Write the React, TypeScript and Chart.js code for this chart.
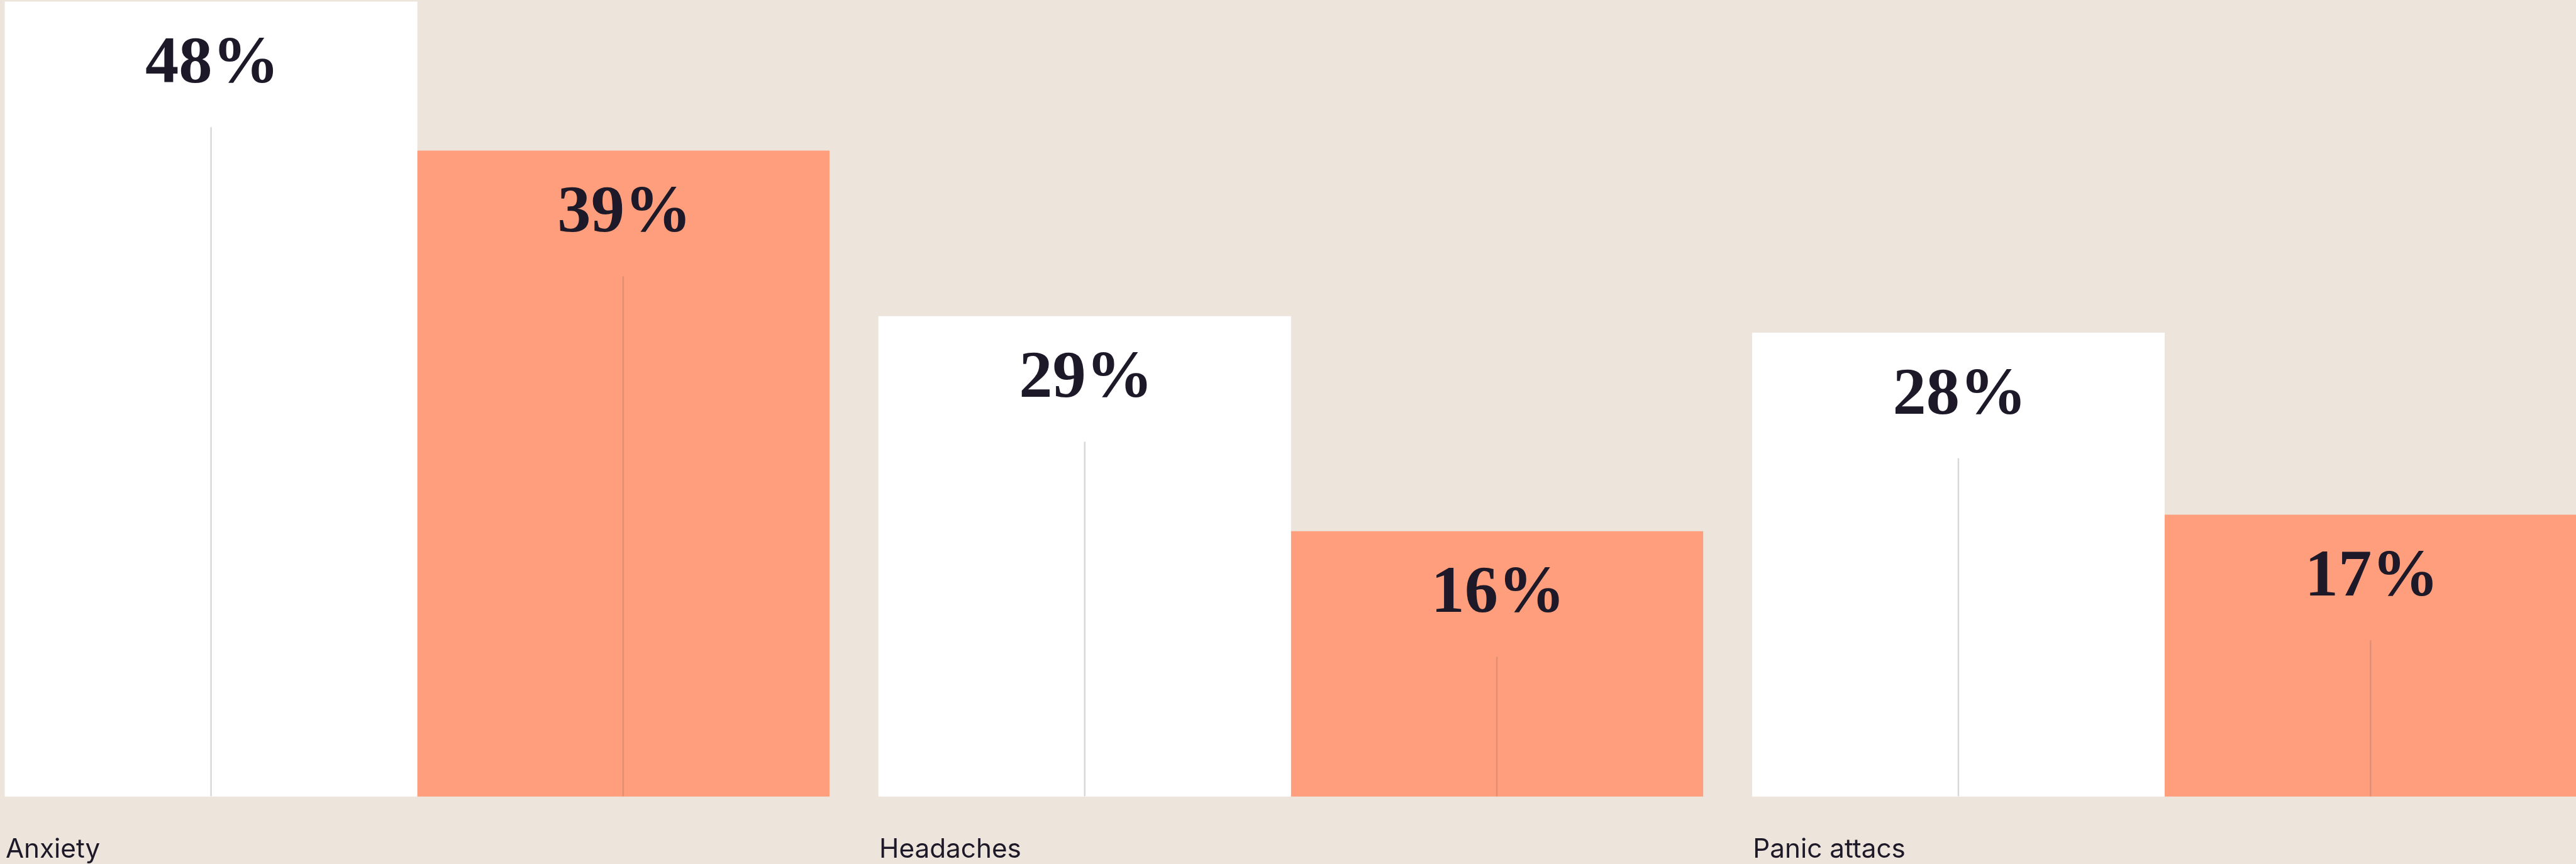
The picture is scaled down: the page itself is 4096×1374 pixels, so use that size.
import React, { useEffect, useRef } from "react";
import { Chart, registerables } from "chart.js";

Chart.register(...registerables);

const categories = ["Anxiety", "Headaches", "Panic attacs"];
const seriesA = [48, 29, 28];
const seriesB = [39, 16, 17];
const seriesNames = ["Group A", "Group B"];

const S = 0.987;
const W = 4096;
const H = 1374;
const BG = "#EDE5DC";
const WHITE = "#FFFFFF";
const ORANGE = "#FF9E7D";
const TEXT = "#1D1928";
const LINE_ON_WHITE = "#D8D8D8";
const LINE_ON_ORANGE = "#E08E76";

const barLabels = {
  id: "barLabels",
  afterDatasetsDraw(chart: any) {
    const ctx = chart.ctx;
    ctx.save();
    chart.data.datasets.forEach((ds: any, di: number) => {
      const meta = chart.getDatasetMeta(di);
      meta.data.forEach((bar: any, i: number) => {
        const top = bar.y;
        const base = bar.base;
        // center line
        ctx.strokeStyle = di === 0 ? LINE_ON_WHITE : LINE_ON_ORANGE;
        ctx.lineWidth = 2.5 * S;
        ctx.beginPath();
        ctx.moveTo(bar.x, top + 202 * S);
        ctx.lineTo(bar.x, base);
        ctx.stroke();
        // value label
        ctx.fillStyle = TEXT;
        ctx.font = `bold ${108 * S}px "Liberation Serif", serif`;
        ctx.textAlign = "center";
        ctx.textBaseline = "alphabetic";
        ctx.fillText(`${ds.data[i]}%`, bar.x + 2 * S, top + 130 * S);
      });
    });
    // category labels, left aligned with first bar of the group
    const meta0 = chart.getDatasetMeta(0);
    ctx.fillStyle = TEXT;
    ctx.font = `${42.8 * S}px Inter, sans-serif`;
    ctx.textAlign = "left";
    ctx.textBaseline = "alphabetic";
    categories.forEach((c, i) => {
      const bar = meta0.data[i];
      const left = bar.x - bar.width / 2;
      ctx.fillText(c, left + 1 * S, bar.base + 99 * S);
    });
    ctx.restore();
  },
};

export default function App() {
  const ref = useRef<HTMLCanvasElement | null>(null);
  useEffect(() => {
    let chart: Chart | null = null;
    let cancelled = false;
    const make = () => {
      if (cancelled || !ref.current) return;
      const barW = 664 * S;
      const centerFirst = 672 * S;
      const centerLast = 3487 * S;
      const bottom = 1283 * S;
      chart = new Chart(ref.current, {
        type: "bar",
        data: {
          labels: categories,
          datasets: [
            {
              label: seriesNames[0],
              data: seriesA,
              backgroundColor: WHITE,
              borderWidth: 0,
              barThickness: barW,
              clip: false as any,
            },
            {
              label: seriesNames[1],
              data: seriesB,
              backgroundColor: ORANGE,
              borderWidth: 0,
              barThickness: barW,
              clip: false as any,
            },
          ],
        },
        options: {
          animation: false,
          responsive: false,
          layout: {
            padding: {
              left: centerFirst,
              right: W - centerLast,
              top: 0,
              bottom: H - bottom,
            },
          },
          plugins: {
            legend: { display: false },
            tooltip: { enabled: false },
          },
          scales: {
            x: {
              display: false,
              offset: false,
              grid: { display: false },
            },
            y: {
              display: false,
              min: 0,
              max: 48.11,
              grid: { display: false },
            },
          },
        },
        plugins: [barLabels],
      });
    };
    const fonts: any = (document as any).fonts;
    if (fonts && fonts.load) {
      Promise.all([
        fonts.load(`${42.8 * S}px Inter`),
        fonts.load(`bold ${108 * S}px "Liberation Serif"`),
      ])
        .catch(() => {})
        .then(make);
    } else {
      make();
    }
    return () => {
      cancelled = true;
      if (chart) chart.destroy();
    };
  }, []);
  return (
    <div
      style={{
        position: "fixed",
        left: 0,
        top: 0,
        width: W,
        height: H,
        background: BG,
        overflow: "hidden",
      }}
    >
      <canvas ref={ref} width={W} height={H} style={{ display: "block", width: W, height: H }} />
    </div>
  );
}
